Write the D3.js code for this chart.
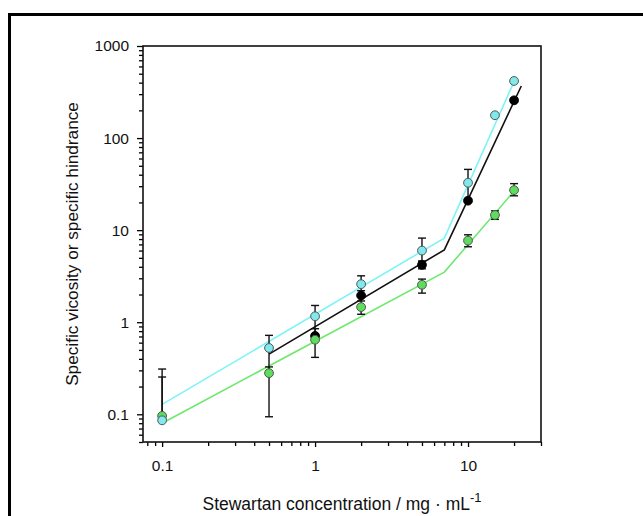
<!DOCTYPE html>
<html>
<head>
<meta charset="utf-8">
<title>Stewartan viscosity</title>
<script src="https://cdnjs.cloudflare.com/ajax/libs/d3/7.8.5/d3.min.js"></script>
<style>
	body { margin: 0; background: #fff; }
	text { font-family: "Liberation Sans", Arial, sans-serif; fill: #111; }
</style>
</head>
<body>
<script>
	// measured points, [concentration, value]
	var cyanPts = [[0.1, 0.086], [0.5, 0.525], [1, 1.16], [2, 2.59], [5, 6.0], [10, 32.7], [15, 177], [20, 417]];
	var blackPts = [[1, 0.71], [2, 1.95], [5, 4.2], [10, 20.9], [20, 257]];
	var greenPts = [[0.1, 0.096], [0.5, 0.28], [1, 0.645], [2, 1.46], [5, 2.55], [10, 7.7], [15, 14.6], [20, 27.2]];

	// fitted lines (two segments each)
	var cyanFit = [[0.1, 0.128], [7, 8.2], [20, 410]];
	var blackFit = [[0.5, 0.45], [7, 6.1], [22.3, 368]];
	var greenFit = [[0.1, 0.08], [7, 3.5], [20, 26.5]];

	// error bars [x, low, high]
	var errBars = [
		[0.1, 0.09, 0.31], [0.1, 0.09, 0.254],
		[0.5, 0.094, 0.72], [0.5, 0.28, 0.327],
		[1, 0.415, 1.52], [1, 0.66, 0.85],
		[2, 1.22, 3.19], [2, 1.7, 2.2],
		[5, 4.6, 8.2], [5, 3.8, 4.6], [5, 2.07, 2.94],
		[10, 22, 45.7], [10, 6.6, 8.9],
		[15, 13.1, 16.2],
		[20, 23.6, 32], [20, 245, 272]
	];

	var xMajor = [0.1, 1, 10];
	var yMajor = [0.1, 1, 10, 100, 1000];
	var xLabels = ['0.1', '1', '10'];
	var yLabels = ['0.1', '1', '10', '100', '1000'];

	var W = 643, H = 516;
	var pL = 143, pR = 541, pT = 46, pB = 442;

	var svg = d3.select('body').append('svg')
		.attr('width', W)
		.attr('height', H);

	// outer frame of the figure (runs off the page right and bottom)
	svg.append('rect')
		.attr('x', 9.5).attr('y', 14.5)
		.attr('width', 800).attr('height', 700)
		.attr('fill', 'none')
		.attr('stroke', '#000')
		.attr('stroke-width', 3);

	var x = d3.scaleLog().domain([0.075, 30]).range([pL, pR]);
	var y = d3.scaleLog().domain([0.05, 1000]).range([pB, pT]);

	function minorTicks(lo, hi) {
		var out = [];
		for (var e = -2; e <= 3; e++) {
			for (var m = 2; m <= 9; m++) {
				var v = m * Math.pow(10, e);
				if (v >= lo * 0.999 && v <= hi * 1.001) out.push(v);
			}
		}
		return out;
	}

	// x axis
	var gxMinor = svg.append('g').attr('transform', 'translate(0,' + pB + ')')
		.call(d3.axisBottom(x).tickValues(minorTicks(0.075, 30)).tickSize(4).tickFormat(''));
	var gx = svg.append('g').attr('transform', 'translate(0,' + pB + ')')
		.call(d3.axisBottom(x).tickValues(xMajor).tickSize(5).tickFormat(function (d, i) { return xLabels[i]; }));
	gx.selectAll('text').attr('font-size', 15.5).attr('dy', null).attr('y', 29);

	// y axis
	var gyMinor = svg.append('g').attr('transform', 'translate(' + pL + ',0)')
		.call(d3.axisLeft(y).tickValues(minorTicks(0.05, 1000)).tickSize(4).tickFormat(''));
	var gy = svg.append('g').attr('transform', 'translate(' + pL + ',0)')
		.call(d3.axisLeft(y).tickValues(yMajor).tickSize(6).tickFormat(function (d, i) { return yLabels[i]; }));
	gy.selectAll('text').attr('font-size', 15.5).attr('x', -14);

	[gxMinor, gx, gyMinor, gy].forEach(function (g) {
		g.selectAll('.domain').remove();
		g.selectAll('line').attr('stroke', '#000').attr('stroke-width', 1.3);
	});

	// plot frame
	svg.append('rect')
		.attr('x', pL).attr('y', pT)
		.attr('width', pR - pL).attr('height', pB - pT)
		.attr('fill', 'none')
		.attr('stroke', '#111')
		.attr('stroke-width', 1.6);

	var line = d3.line()
		.x(function (d) { return x(d[0]); })
		.y(function (d) { return y(d[1]); });

	svg.append('path').datum(cyanFit).attr('d', line)
		.attr('fill', 'none').attr('stroke', '#7ff4f6').attr('stroke-width', 1.6);
	svg.append('path').datum(greenFit).attr('d', line)
		.attr('fill', 'none').attr('stroke', '#6ee86e').attr('stroke-width', 1.6);
	svg.append('path').datum(blackFit).attr('d', line)
		.attr('fill', 'none').attr('stroke', '#111').attr('stroke-width', 1.6);

	// error bars
	var eb = svg.append('g').attr('stroke', '#111').attr('stroke-width', 1.4);
	errBars.forEach(function (d) {
		var cx = x(d[0]);
		eb.append('line').attr('x1', cx).attr('x2', cx).attr('y1', y(d[1])).attr('y2', y(d[2]));
		eb.append('line').attr('x1', cx - 4).attr('x2', cx + 4).attr('y1', y(d[1])).attr('y2', y(d[1]));
		eb.append('line').attr('x1', cx - 4).attr('x2', cx + 4).attr('y1', y(d[2])).attr('y2', y(d[2]));
	});

	function dots(pts, fill, stroke) {
		svg.append('g').selectAll('circle')
			.data(pts)
			.enter()
			.append('circle')
			.attr('cx', function (d) { return x(d[0]); })
			.attr('cy', function (d) { return y(d[1]); })
			.attr('r', 4.4)
			.attr('fill', fill)
			.attr('stroke', stroke)
			.attr('stroke-width', 1);
	}
	dots(blackPts, '#000', '#000');
	dots(greenPts, '#5fdc5f', '#4a5a4a');
	dots(cyanPts, '#82e8ec', '#4a5a5c');

	// axis titles
	var xt = svg.append('text')
		.attr('x', (pL + pR) / 2)
		.attr('y', 510)
		.attr('text-anchor', 'middle')
		.attr('font-size', 17.5);
	xt.append('tspan').text('Stewartan concentration / mg \u00b7 mL');
	xt.append('tspan').attr('dy', -8).attr('font-size', 13).text('-1');

	svg.append('text')
		.attr('transform', 'translate(78,' + (pT + pB) / 2 + ') rotate(-90)')
		.attr('text-anchor', 'middle')
		.attr('font-size', 17.2)
		.text('Specific vicosity or specific hindrance');
</script>
</body>
</html>
